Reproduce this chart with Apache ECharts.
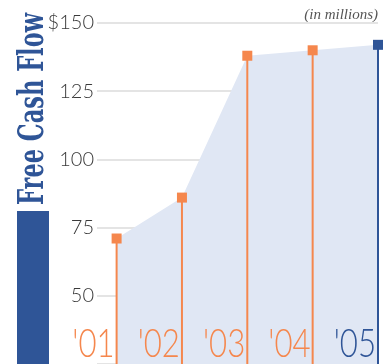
<!DOCTYPE html>
<html>
<head>
<meta charset="utf-8">
<script src="https://cdn.jsdelivr.net/npm/echarts@6/dist/echarts.min.js"></script>
<style>
  html, body { margin: 0; padding: 0; background: #fff; }
  #chart { width: 388px; height: 364px; }
</style>
</head>
<body>
<div id="chart"></div>
<script>
// Free cash flow by fiscal year, in millions of dollars
const years = ["'01", "'02", "'03", "'04", "'05"];
const cashFlow = [71, 86, 138, 140, 142];
const yTicks = [50, 75, 100, 125, 150];

const ORANGE = '#F5874D';
const BLUE = '#2F5597';
const AREA = '#E0E7F4';
const Y_MIN = 25, Y_MAX = 150, Y_STEP = 25;

function colorAt(i) { return i === years.length - 1 ? BLUE : ORANGE; }

// measure text so the condensed type can be fitted to its width
const ctx = document.createElement('canvas').getContext('2d');
function textWidth(text, font) { ctx.font = font; return ctx.measureText(text).width; }

const titleFont = 'bold 36px "DejaVu Serif"';
const titleScale = 192 / textWidth('Free Cash Flow', titleFont);
const yearFont = '300 39px Lato';
const yearScale = 0.8;

const points = cashFlow.map((v, i) => [i, v]);

const chart = echarts.init(document.getElementById('chart'), null, { renderer: 'canvas' });
chart.setOption({
  animation: false,
  grid: { left: 97, right: 10, top: 23, bottom: -2 },
  xAxis: {
    type: 'value', min: -0.3, max: years.length - 1,
    show: false, splitLine: { show: false }
  },
  yAxis: {
    type: 'value', min: Y_MIN, max: Y_MAX, interval: Y_STEP,
    axisLine: { show: false }, axisTick: { show: false },
    axisLabel: {
      showMinLabel: false, margin: 3,
      color: '#3a3a3a', fontFamily: 'Lato', fontWeight: 300, fontSize: 20,
      formatter: v => (yTicks.indexOf(v) < 0 ? '' : (v === Y_MAX ? '$' + v : String(v)))
    },
    splitLine: { lineStyle: { color: '#e4e4e4', width: 2 } }
  },
  graphic: [
    { type: 'rect', shape: { x: 17, y: 211, width: 32, height: 160 }, style: { fill: BLUE } },
    {
      type: 'text', x: 33.5, y: 205, rotation: Math.PI / 2, scaleX: titleScale,
      style: { text: 'Free Cash Flow', font: titleFont, fill: BLUE, align: 'left', verticalAlign: 'middle' }
    },
    {
      type: 'text', x: 378, y: 15,
      style: { text: '(in millions)', font: 'italic 15px "Liberation Serif"', fill: '#555', align: 'right', verticalAlign: 'middle' }
    }
  ],
  series: [
    {
      type: 'line', data: points, showSymbol: false, silent: true, z: 1,
      lineStyle: { width: 0 }, areaStyle: { color: AREA, opacity: 1 }
    },
    {
      type: 'custom', data: points, z: 2, silent: true,
      renderItem: function (params, api) {
        const i = params.dataIndex;
        const top = api.coord([api.value(0), api.value(1)]);
        const base = api.coord([api.value(0), Y_MIN]);
        return {
          type: 'group',
          children: [
            { type: 'line', shape: { x1: top[0], y1: top[1], x2: top[0], y2: base[1] },
              style: { stroke: colorAt(i), lineWidth: 2 } },
            { type: 'text', x: top[0] - 2, y: 364, scaleX: yearScale,
              style: { text: years[i], font: yearFont, fill: colorAt(i), align: 'right', verticalAlign: 'bottom' } }
          ]
        };
      }
    },
    {
      type: 'scatter', data: points, symbol: 'rect', symbolSize: 10, z: 3, silent: true,
      itemStyle: { color: p => colorAt(p.dataIndex), opacity: 1 }
    }
  ]
});
</script>
</body>
</html>
